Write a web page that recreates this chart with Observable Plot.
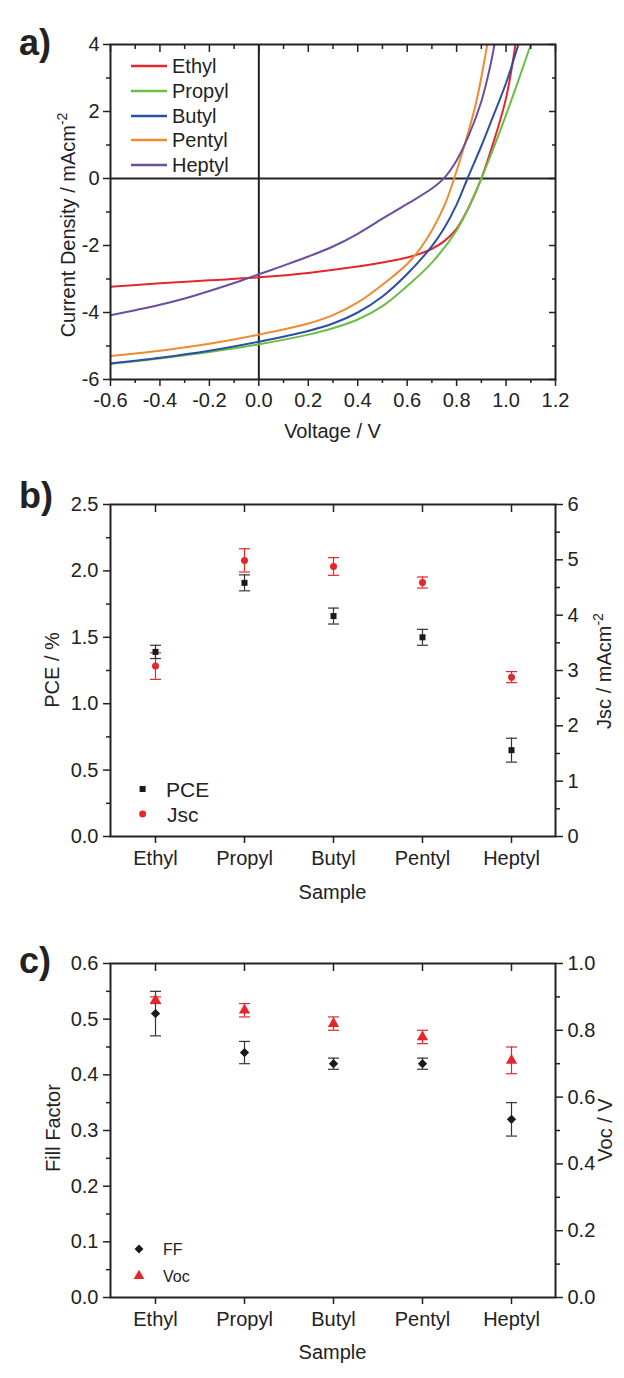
<!DOCTYPE html>
<html><head><meta charset="utf-8">
<script src="https://cdn.jsdelivr.net/npm/d3@7"></script>
<script src="https://cdn.jsdelivr.net/npm/@observablehq/plot@0.6"></script>
<style>
html,body{margin:0;padding:0;background:#fff;}
#chart{width:624px;}
#chart svg{display:block;}
</style></head><body><div id="chart"></div>
<script>
// ---------- Panel a: J-V curves ----------
const seriesNames = ["Ethyl", "Propyl", "Butyl", "Pentyl", "Heptyl"];
const seriesColors = ["#e3262d", "#6cbd45", "#2d4fa1", "#f08a30", "#6b4e9e"];

const ethylV  = [-0.6, -0.4, -0.2, 0, 0.2, 0.4, 0.5, 0.6, 0.65, 0.7, 0.75, 0.8, 0.85, 0.9, 0.95, 1.0, 1.038];
const ethylJ  = [-3.23, -3.13, -3.04, -2.95, -2.82, -2.63, -2.51, -2.36, -2.25, -2.1, -1.87, -1.5, -0.85, 0, 1.1, 2.4, 4.0];
const propylV = [-0.6, -0.4, -0.2, 0, 0.2, 0.3, 0.4, 0.5, 0.6, 0.7, 0.8, 0.85, 0.9, 0.95, 1.0, 1.05, 1.1];
const propylJ = [-5.53, -5.37, -5.18, -4.95, -4.66, -4.47, -4.21, -3.81, -3.21, -2.51, -1.55, -0.84, 0, 0.92, 1.9, 2.93, 4.0];
const butylV  = [-0.6, -0.4, -0.2, 0, 0.2, 0.3, 0.4, 0.5, 0.6, 0.7, 0.75, 0.8, 0.844, 0.9, 0.95, 1.0, 1.05];
const butylJ  = [-5.52, -5.35, -5.14, -4.87, -4.55, -4.33, -4.0, -3.52, -2.85, -2.02, -1.48, -0.78, 0, 0.97, 1.9, 2.85, 4.0];
const pentylV = [-0.6, -0.4, -0.2, 0, 0.2, 0.3, 0.4, 0.5, 0.6, 0.65, 0.7, 0.75, 0.79, 0.84, 0.88, 0.924];
const pentylJ = [-5.3, -5.14, -4.93, -4.66, -4.33, -4.08, -3.7, -3.17, -2.55, -2.12, -1.55, -0.82, 0, 1.2, 2.3, 4.0];
const heptylV = [-0.6, -0.5, -0.4, -0.3, -0.2, -0.1, 0, 0.1, 0.2, 0.3, 0.4, 0.5, 0.6, 0.7, 0.75, 0.8, 0.85, 0.9, 0.935, 0.953];
const heptylJ = [-4.08, -3.93, -3.77, -3.58, -3.36, -3.12, -2.86, -2.6, -2.33, -2.03, -1.65, -1.2, -0.76, -0.3, 0.02, 0.54, 1.3, 2.3, 3.32, 4.0];

const jvXTicks = [-0.6, -0.4, -0.2, 0, 0.2, 0.4, 0.6, 0.8, 1.0, 1.2];
const jvXMinor = [-0.5, -0.3, -0.1, 0.1, 0.3, 0.5, 0.7, 0.9, 1.1];
const jvYTicks = [-6, -4, -2, 0, 2, 4];
const jvYMinor = [-5, -3, -1, 1, 3];

// ---------- Panel b / c: device parameters ----------
const samples = ["Ethyl", "Propyl", "Butyl", "Pentyl", "Heptyl"];
const pce    = [1.39, 1.91, 1.66, 1.50, 0.65];
const pceErr = [0.05, 0.06, 0.06, 0.06, 0.09];
const jsc    = [3.08, 4.99, 4.88, 4.59, 2.88];
const jscErr = [0.24, 0.21, 0.16, 0.10, 0.10];
const ff     = [0.51, 0.44, 0.42, 0.42, 0.32];
const ffErr  = [0.04, 0.02, 0.01, 0.01, 0.03];
const voc    = [0.89, 0.86, 0.82, 0.78, 0.71];
const vocErr = [0.01, 0.02, 0.02, 0.02, 0.04];

const pceTicks = [0, 0.5, 1.0, 1.5, 2.0, 2.5];
const pceMinor = [0.25, 0.75, 1.25, 1.75, 2.25];
const jscTicks = [0, 1, 2, 3, 4, 5, 6];
const jscMinor = [0.5, 1.5, 2.5, 3.5, 4.5, 5.5];
const ffTicks  = [0, 0.1, 0.2, 0.3, 0.4, 0.5, 0.6];
const ffMinor  = [0.05, 0.15, 0.25, 0.35, 0.45, 0.55];
const vocTicks = [0, 0.2, 0.4, 0.6, 0.8, 1.0];
const vocMinor = [0.1, 0.3, 0.5, 0.7, 0.9];

// ---------- styling ----------
const FONT = "'Liberation Sans', Arial, Helvetica, sans-serif";
const INK = "#222";
const RED = "#e4262c";
const BLK = "#1a1a1a";
const W = 624, ML = 110, MR = 69;
const chart = document.getElementById("chart");

function addText(svg, x, y, str, o = {}) {
  const t = d3.select(svg).append("text")
    .attr("transform", o.rotate ? `translate(${x},${y}) rotate(-90)` : `translate(${x},${y})`)
    .attr("text-anchor", o.anchor || "middle")
    .attr("font-size", o.size || 20)
    .attr("font-weight", o.weight || "normal")
    .attr("font-family", FONT)
    .attr("fill", INK);
  t.append("tspan").text(str);
  if (o.sup) t.append("tspan").attr("dy", -8).attr("font-size", 14).text(o.sup);
  return t;
}

const tickStyle = {stroke: INK, strokeWidth: 1.5, label: null};
const blank = () => "";
// horizontal error-bar cap drawn as a custom dot symbol
const capSymbol = {draw(ctx) { ctx.moveTo(-5.5, 0); ctx.lineTo(5.5, 0); }};

// ===== Panel a =====
const jvRows = [];
[["Ethyl", ethylV, ethylJ], ["Propyl", propylV, propylJ], ["Butyl", butylV, butylJ],
 ["Pentyl", pentylV, pentylJ], ["Heptyl", heptylV, heptylJ]].forEach(([name, V, J]) =>
  V.forEach((v, i) => jvRows.push({series: name, V: v, J: J[i]})));

const HA = 455;
const plotA = Plot.plot({
  width: W, height: HA, marginLeft: ML, marginRight: MR, marginTop: 44, marginBottom: HA - 379,
  style: {fontFamily: FONT, fontSize: "20px", color: INK, background: "white", overflow: "visible"},
  x: {domain: [-0.6, 1.2], axis: null},
  y: {domain: [-6, 4], axis: null},
  color: {domain: seriesNames, range: seriesColors},
  marks: [
    Plot.ruleY([0], {stroke: INK, strokeWidth: 2}),
    Plot.ruleX([0], {stroke: INK, strokeWidth: 2}),
    Plot.line(jvRows, {x: "V", y: "J", z: "series", stroke: "series", strokeWidth: 2, curve: "catmull-rom", clip: true}),
    Plot.frame({stroke: INK, strokeWidth: 2}),
    Plot.axisX({...tickStyle, anchor: "bottom", ticks: jvXTicks, tickSize: 7, tickPadding: 6, tickFormat: d => d.toFixed(1), fontSize: 20}),
    Plot.axisX({...tickStyle, anchor: "bottom", ticks: jvXMinor, tickSize: 4, tickFormat: blank}),
    Plot.axisX({...tickStyle, anchor: "top", ticks: jvXTicks, tickSize: 7, dy: 7, tickFormat: blank}),
    Plot.axisX({...tickStyle, anchor: "top", ticks: jvXMinor, tickSize: 4, dy: 4, tickFormat: blank}),
    Plot.axisY({...tickStyle, anchor: "left", ticks: jvYTicks, tickSize: 7, tickPadding: 4, tickFormat: d => String(d), fontSize: 20}),
    Plot.axisY({...tickStyle, anchor: "left", ticks: jvYMinor, tickSize: 4, tickFormat: blank}),
    Plot.axisY({...tickStyle, anchor: "right", ticks: jvYTicks, tickSize: 7, dx: -7, tickFormat: blank}),
    Plot.axisY({...tickStyle, anchor: "right", ticks: jvYMinor, tickSize: 4, dx: -4, tickFormat: blank})
  ]
});
chart.appendChild(plotA);
addText(plotA, 19, 55, "a)", {anchor: "start", size: 36, weight: "bold"});
addText(plotA, 332.5, 438, "Voltage / V");
addText(plotA, 75, 225, "Current Density / mAcm", {rotate: true, sup: "-2"});
{
  const g = d3.select(plotA).append("g");
  const rowsY = [66, 91, 116, 140, 165];
  seriesNames.forEach((name, i) => {
    g.append("line").attr("x1", 131).attr("x2", 167).attr("y1", rowsY[i]).attr("y2", rowsY[i])
      .attr("stroke", seriesColors[i]).attr("stroke-width", 2.5);
    g.append("text").attr("x", 172).attr("y", rowsY[i] + 7).attr("font-size", 20).attr("text-anchor", "start")
      .attr("font-family", FONT).attr("fill", INK).text(name);
  });
}

// ===== helper for panels b and c =====
function paramPanel({H, mt, mb, leftDomain, leftTicks, leftMinor, leftFmt, k, rightTicks, rightMinor, rightFmt,
                     left, leftErr, right, rightErr, leftSymbol, rightSymbol, leftR, rightR}) {
  const rows = samples.map((s, i) => ({
    sample: s,
    l: left[i], lLo: left[i] - leftErr[i], lHi: left[i] + leftErr[i],
    r: right[i] * k, rLo: (right[i] - rightErr[i]) * k, rHi: (right[i] + rightErr[i]) * k
  }));
  const errStyle = (c) => ({x: "sample", symbol: capSymbol, stroke: c, fill: "none", strokeWidth: 1.2});
  return Plot.plot({
    width: W, height: H, marginLeft: ML, marginRight: MR, marginTop: mt, marginBottom: mb,
    style: {fontFamily: FONT, fontSize: "20px", color: INK, background: "white", overflow: "visible"},
    x: {type: "point", domain: samples, padding: 0.5, axis: null},
    y: {domain: leftDomain, axis: null},
    marks: [
      Plot.frame({stroke: INK, strokeWidth: 2}),
      Plot.axisX({...tickStyle, anchor: "bottom", tickSize: 7, tickPadding: 7, fontSize: 20}),
      Plot.axisX({...tickStyle, anchor: "top", tickSize: 7, dy: 7, tickFormat: blank}),
      Plot.axisY({...tickStyle, anchor: "left", ticks: leftTicks, tickSize: 7, tickPadding: 5, tickFormat: leftFmt, fontSize: 20}),
      Plot.axisY({...tickStyle, anchor: "left", ticks: leftMinor, tickSize: 4, tickFormat: blank}),
      Plot.axisY({...tickStyle, anchor: "right", ticks: rightTicks.map(v => v * k), tickSize: 7, tickPadding: 5,
                  tickFormat: d => rightFmt(d / k), fontSize: 20}),
      Plot.axisY({...tickStyle, anchor: "right", ticks: rightMinor.map(v => v * k), tickSize: 4, tickFormat: blank}),
      // right-axis series (red) error bars
      Plot.ruleX(rows, {x: "sample", y1: "rLo", y2: "rHi", stroke: RED, strokeWidth: 1.2}),
      Plot.dot(rows, {...errStyle(RED), y: "rLo"}),
      Plot.dot(rows, {...errStyle(RED), y: "rHi"}),
      // left-axis series (black) error bars
      Plot.ruleX(rows, {x: "sample", y1: "lLo", y2: "lHi", stroke: "#333", strokeWidth: 1.2}),
      Plot.dot(rows, {...errStyle("#333"), y: "lLo"}),
      Plot.dot(rows, {...errStyle("#333"), y: "lHi"}),
      Plot.dot(rows, {x: "sample", y: "r", symbol: rightSymbol, r: rightR, fill: RED, stroke: "none"}),
      Plot.dot(rows, {x: "sample", y: "l", symbol: leftSymbol, r: leftR, fill: BLK, stroke: "none"})
    ]
  });
}

// ===== Panel b =====
const HB = 465, OB = 455;
const plotB = paramPanel({
  H: HB, mt: 504 - OB, mb: HB - (836 - OB),
  leftDomain: [0, 2.5], leftTicks: pceTicks, leftMinor: pceMinor, leftFmt: d => d.toFixed(1),
  k: 2.5 / 6, rightTicks: jscTicks, rightMinor: jscMinor, rightFmt: v => String(Math.round(v)),
  left: pce, leftErr: pceErr, right: jsc, rightErr: jscErr,
  leftSymbol: "square", rightSymbol: "circle", leftR: 3.4, rightR: 3.5
});
chart.appendChild(plotB);
addText(plotB, 19, 508 - OB, "b)", {anchor: "start", size: 36, weight: "bold"});
addText(plotB, 332.5, 899 - OB, "Sample");
addText(plotB, 59, 670 - OB, "PCE / %", {rotate: true});
addText(plotB, 611, 671 - OB, "Jsc / mAcm", {rotate: true, sup: "-2"});
{
  const g = d3.select(plotB).append("g");
  g.append("path").attr("transform", `translate(142.6,${789 - OB})`)
    .attr("d", d3.symbol(d3.symbolSquare, 36)()).attr("fill", BLK);
  g.append("path").attr("transform", `translate(142.6,${814 - OB})`)
    .attr("d", d3.symbol(d3.symbolCircle, 38)()).attr("fill", RED);
  g.append("text").attr("x", 166).attr("y", 789 - OB + 7.5).attr("font-size", 21).attr("text-anchor", "start")
    .attr("font-family", FONT).attr("fill", INK).text("PCE");
  g.append("text").attr("x", 167).attr("y", 814 - OB + 7.5).attr("font-size", 21).attr("text-anchor", "start")
    .attr("font-family", FONT).attr("fill", INK).text("Jsc");
}

// ===== Panel c =====
const HC = 458, OC = 920;
const plotC = paramPanel({
  H: HC, mt: 963 - OC, mb: HC - (1297 - OC),
  leftDomain: [0, 0.6], leftTicks: ffTicks, leftMinor: ffMinor, leftFmt: d => d.toFixed(1),
  k: 0.6, rightTicks: vocTicks, rightMinor: vocMinor, rightFmt: v => v.toFixed(1),
  left: ff, leftErr: ffErr, right: voc, rightErr: vocErr,
  leftSymbol: "diamond2", rightSymbol: "triangle", leftR: 4.2, rightR: 4.2
});
chart.appendChild(plotC);
addText(plotC, 19, 973 - OC, "c)", {anchor: "start", size: 36, weight: "bold"});
addText(plotC, 332.5, 1359 - OC, "Sample");
addText(plotC, 60, 1128 - OC, "Fill Factor", {rotate: true});
addText(plotC, 612, 1130 - OC, "Voc / V", {rotate: true});
{
  const g = d3.select(plotC).append("g");
  g.append("path").attr("transform", `translate(139,${1249 - OC})`)
    .attr("d", d3.symbol(d3.symbolDiamond2, 50)()).attr("fill", BLK);
  g.append("path").attr("transform", `translate(139,${1276 - OC})`)
    .attr("d", d3.symbol(d3.symbolTriangle, 50)()).attr("fill", RED);
  g.append("text").attr("x", 163).attr("y", 1249 - OC + 5.5).attr("font-size", 16).attr("text-anchor", "start")
    .attr("font-family", FONT).attr("fill", INK).text("FF");
  g.append("text").attr("x", 163).attr("y", 1276 - OC + 5.5).attr("font-size", 16).attr("text-anchor", "start")
    .attr("font-family", FONT).attr("fill", INK).text("Voc");
}
</script>
</body></html>
